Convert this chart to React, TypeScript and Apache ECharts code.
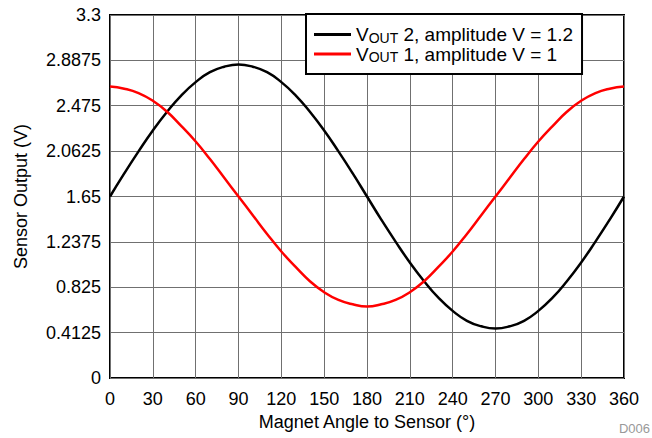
import React, { useEffect, useRef } from "react";
import * as echarts from "echarts";

const angles = [0, 10, 20, 30, 40, 50, 60, 70, 80, 90, 100, 110, 120, 130, 140, 150, 160, 170, 180, 190, 200, 210, 220, 230, 240, 250, 260, 270, 280, 290, 300, 310, 320, 330, 340, 350, 360];
const vout2 = [1.65, 1.86, 2.06, 2.25, 2.42, 2.57, 2.69, 2.78, 2.83, 2.85, 2.83, 2.78, 2.69, 2.57, 2.42, 2.25, 2.06, 1.86, 1.65, 1.44, 1.24, 1.05, 0.88, 0.73, 0.61, 0.52, 0.47, 0.45, 0.47, 0.52, 0.61, 0.73, 0.88, 1.05, 1.24, 1.44, 1.65];
const vout1 = [2.65, 2.63, 2.59, 2.52, 2.42, 2.29, 2.15, 1.99, 1.82, 1.65, 1.48, 1.31, 1.15, 1.01, 0.88, 0.78, 0.71, 0.67, 0.65, 0.67, 0.71, 0.78, 0.88, 1.01, 1.15, 1.31, 1.48, 1.65, 1.82, 1.99, 2.15, 2.29, 2.42, 2.52, 2.59, 2.63, 2.65];
const yTickLabels = ["0", "0.4125", "0.825", "1.2375", "1.65", "2.0625", "2.475", "2.8875", "3.3"];
const seriesNames = ["VOUT 2, amplitude V = 1.2", "VOUT 1, amplitude V = 1"];
const legendLabels: Record<string, string> = {
  "VOUT 2, amplitude V = 1.2": "{a|V}{s|OUT}{a| 2, amplitude V = 1.2}",
  "VOUT 1, amplitude V = 1": "{a|V}{s|OUT}{a| 1, amplitude V = 1}",
};

const FONT = "'Liberation Sans', Arial, sans-serif";

export default function App() {
  const ref = useRef<HTMLDivElement>(null);
  useEffect(() => {
    if (!ref.current) return;
    const chart = echarts.init(ref.current, null, { renderer: "svg" });
    chart.setOption({
      animation: false,
      backgroundColor: "#fff",
      textStyle: { fontFamily: FONT },
      grid: {
        left: 110,
        right: 28,
        top: 15,
        bottom: 60,
        show: true,
        borderColor: "#000",
        borderWidth: 2,
        containLabel: false,
      },
      legend: {
        left: 306,
        top: 14,
        orient: "vertical",
        padding: [11, 9, 10, 8],
        itemGap: 0,
        itemWidth: 37,
        itemHeight: 3,
        icon: "rect",
        borderColor: "#000",
        borderWidth: 2,
        backgroundColor: "#fff",
        data: seriesNames,
        formatter: (name: string) => legendLabels[name],
        textStyle: {
          color: "#000",
          fontFamily: FONT,
          rich: {
            a: { fontSize: 19, lineHeight: 20, color: "#000", fontFamily: FONT },
            s: { fontSize: 14, lineHeight: 10, verticalAlign: "bottom", color: "#000", fontFamily: FONT },
          },
        },
      },
      xAxis: {
        type: "value",
        min: 0,
        max: 360,
        interval: 30,
        name: "Magnet Angle to Sensor (°)",
        nameLocation: "middle",
        nameGap: 33,
        nameTextStyle: { fontSize: 18, color: "#000", fontFamily: FONT },
        axisLine: { show: false },
        axisTick: { show: false },
        axisLabel: { fontSize: 18, color: "#000", margin: 12, fontFamily: FONT },
        splitLine: { show: true, lineStyle: { color: "#707070", width: 1 } },
      },
      yAxis: {
        type: "value",
        min: 0,
        max: 3.3,
        interval: 0.4125,
        name: "Sensor Output (V)",
        nameLocation: "middle",
        nameGap: 80,
        nameTextStyle: { fontSize: 18, color: "#000", fontFamily: FONT },
        axisLine: { show: false },
        axisTick: { show: false },
        axisLabel: {
          fontSize: 18,
          color: "#000",
          margin: 9,
          fontFamily: FONT,
          formatter: (v: number) => yTickLabels[Math.round(v / 0.4125)],
        },
        splitLine: { show: true, lineStyle: { color: "#707070", width: 1 } },
      },
      graphic: [
        {
          type: "text",
          right: 2,
          top: 422,
          style: { text: "D006", fontSize: 13, fill: "#999", fontFamily: FONT },
        },
      ],
      series: [
        {
          name: seriesNames[0],
          type: "line",
          smooth: true,
          showSymbol: false,
          data: angles.map((a, i) => [a, vout2[i]]),
          lineStyle: { color: "#000", width: 2.5 },
          itemStyle: { color: "#000" },
        },
        {
          name: seriesNames[1],
          type: "line",
          smooth: true,
          showSymbol: false,
          data: angles.map((a, i) => [a, vout1[i]]),
          lineStyle: { color: "#ff0000", width: 2.5 },
          itemStyle: { color: "#ff0000" },
        },
      ],
    });
    return () => chart.dispose();
  }, []);
  return <div ref={ref} style={{ width: 652, height: 438, position: "absolute", left: 0, top: 0 }} />;
}
